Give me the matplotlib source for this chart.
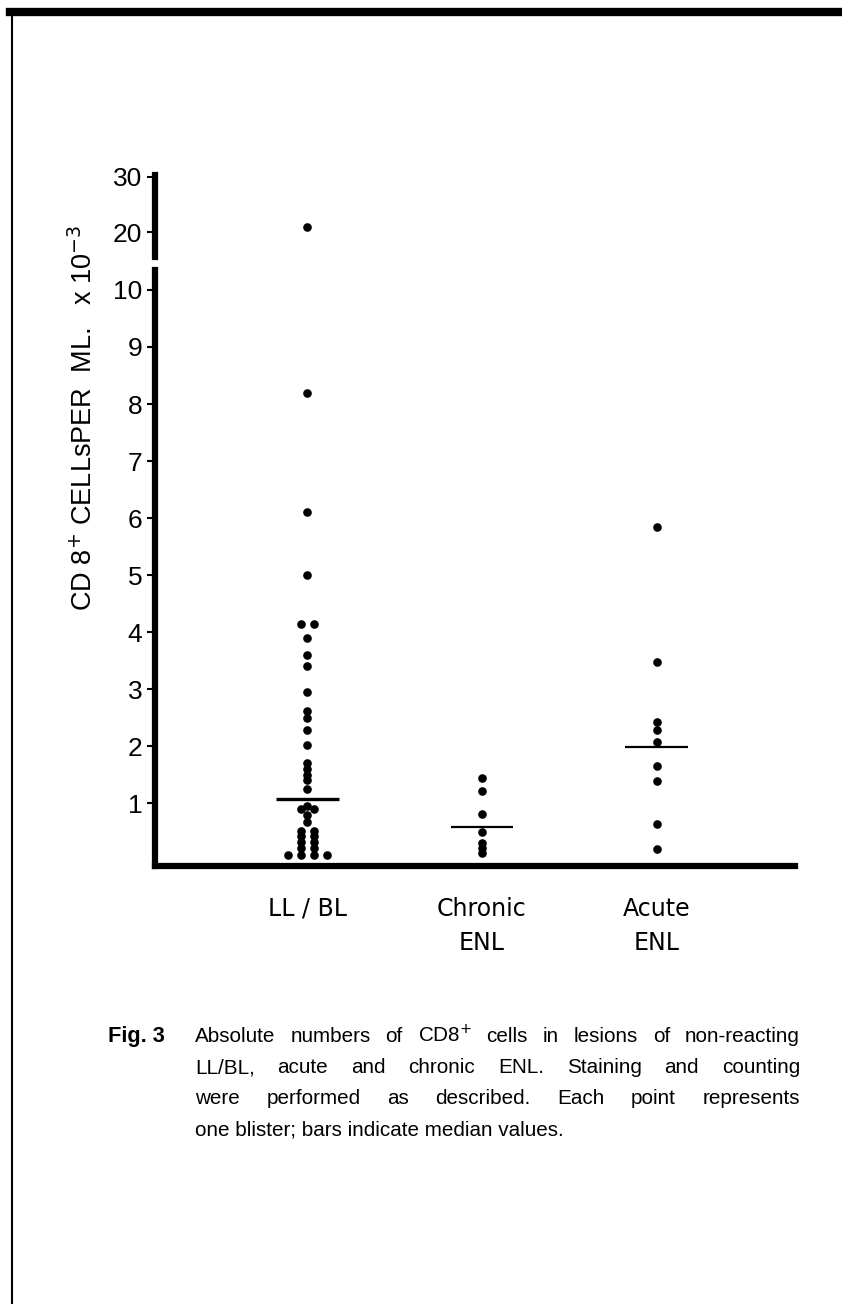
import matplotlib
matplotlib.use('Agg')
import matplotlib.pyplot as plt
from matplotlib.lines import Line2D
import numpy as np

# ---------------- data ----------------
categories = ['LL / BL', 'Chronic\nENL', 'Acute\nENL']
ll_bl = [21.0, 8.2, 6.1, 5.0, 4.15, 4.15, 3.9, 3.6, 3.4, 2.95, 2.62, 2.5, 2.28,
         2.02, 1.7, 1.6, 1.5, 1.4, 1.25, 0.95, 0.9, 0.9, 0.8, 0.68, 0.52, 0.52,
         0.42, 0.42, 0.32, 0.32, 0.22, 0.22, 0.1, 0.1, 0.1, 0.1]
chronic = [1.44, 1.21, 0.81, 0.49, 0.30, 0.21, 0.12]
acute = [5.84, 3.47, 2.42, 2.28, 2.07, 1.65, 1.39, 0.63, 0.19]
medians = [1.08, 0.58, 1.98]
yticks_low = [1, 2, 3, 4, 5, 6, 7, 8, 9, 10]
yticks_up = [20, 30]
ylabel = r'CD 8$^{+}$ CELLsPER  ML.   x 10$^{-3}$'
caption_head = 'Fig. 3'
caption_lines = [
    r'Absolute numbers of CD8$^{+}$  cells in lesions of non-reacting',
    'LL/BL, acute and chronic ENL.  Staining and counting',
    'were performed as described.  Each point represents',
    'one blister; bars indicate median values.',
]

# ---------------- layout ----------------
W, H = 842, 1304
fig = plt.figure(figsize=(W / 100, H / 100), dpi=100)
fig.patch.set_facecolor('white')


def fx(px):
    return px / W


def fy(py):
    return 1 - py / H


LEFT, RIGHT = 155, 795
LOW_BOT, LOW_TOP = 866, 270
UP_BOT, UP_TOP = 257.5, 175
ax_low = fig.add_axes([fx(LEFT), fy(LOW_BOT), (RIGHT - LEFT) / W, (LOW_BOT - LOW_TOP) / H])
ax_up = fig.add_axes([fx(LEFT), fy(UP_BOT), (RIGHT - LEFT) / W, (UP_BOT - UP_TOP) / H])

xlim = (-0.869, 2.789)
ax_low.set_xlim(*xlim)
ax_up.set_xlim(*xlim)
ax_low.set_ylim(-0.1, 10.35)
ax_up.set_ylim(15.5, 30.3)

for ax in (ax_low, ax_up):
    ax.patch.set_alpha(0)
    for s in ('top', 'right'):
        ax.spines[s].set_visible(False)
    ax.spines['left'].set_linewidth(4.5)
    ax.spines['left'].set_capstyle('projecting')
    ax.tick_params(axis='y', direction='out', length=6, width=1.5,
                   labelsize=19, pad=3)
ax_up.spines['bottom'].set_visible(False)
ax_low.spines['bottom'].set_linewidth(4.5)
ax_low.spines['bottom'].set_capstyle('projecting')

ax_low.set_yticks(yticks_low)
ax_low.set_yticklabels([str(t) for t in yticks_low], fontfamily='Liberation Sans')
ax_up.set_yticks(yticks_up)
ax_up.set_yticklabels([str(t) for t in yticks_up], fontfamily='Liberation Sans')
ax_up.set_xticks([])
ax_low.set_xticks(range(len(categories)))
ax_low.set_xticklabels(categories, fontfamily='DejaVu Sans', fontsize=17,
                       linespacing=1.55)
ax_low.tick_params(axis='x', length=0, pad=22)

fig.canvas.draw()

# ---------------- points ----------------
BREAK = 10.35
SPACING = 13.0  # px between side-by-side equal values


def draw_group(i, vals):
    vals = np.asarray(vals, dtype=float)
    uniq = {}
    for v in vals:
        key = round(float(v), 3)
        uniq[key] = uniq.get(key, 0) + 1
    for v, n in uniq.items():
        ax = ax_low if v <= BREAK else ax_up
        px, py = ax.transData.transform((i, v))
        offs = (np.arange(n) - (n - 1) / 2) * SPACING
        for o in offs:
            xd, _ = ax.transData.inverted().transform((px + o, py))
            ax.plot([xd], [v], 'o', color='black', markersize=6.2,
                    markeredgewidth=0, clip_on=False)


median_widths = [2.4, 1.6, 1.6]
for i, vals in enumerate([ll_bl, chronic, acute]):
    draw_group(i, vals)
    ax_low.hlines(medians[i], i - 0.18, i + 0.18, color='black',
                  linewidth=median_widths[i])

# ---------------- labels ----------------
fig.text(fx(84), fy(418), ylabel, rotation=90, ha='center', va='center',
         fontsize=19.5, fontfamily='Liberation Sans')

# caption
body_size = 14
renderer = fig.canvas.get_renderer()
probe = fig.text(0, 0, caption_lines[3], fontsize=body_size,
                 fontfamily='Liberation Sans')
w = probe.get_window_extent(renderer).width
probe.remove()
body_size = body_size * 372 / w

X0, X1 = 195, 800
BASE0, LSTEP = 1042, 31
fig.text(fx(108), fy(BASE0), caption_head, fontsize=body_size * 1.05,
         fontweight='bold', fontfamily='Liberation Sans', va='baseline', ha='left')
for k, line in enumerate(caption_lines):
    yb = fy(BASE0 + k * LSTEP)
    if k == len(caption_lines) - 1:
        fig.text(fx(X0), yb, line, fontsize=body_size, fontfamily='Liberation Sans',
                 va='baseline', ha='left')
        continue
    words = line.split()
    texts = []
    widths = []
    for wd in words:
        t = fig.text(0, yb, wd, fontsize=body_size, fontfamily='Liberation Sans',
                     va='baseline', ha='left')
        texts.append(t)
        widths.append(t.get_window_extent(renderer).width)
    gap = (X1 - X0 - sum(widths)) / (len(words) - 1)
    x = X0
    for t, wd in zip(texts, widths):
        t.set_x(fx(x))
        x += wd + gap

# page border
fig.add_artist(Line2D([fx(10), 1.0], [fy(12), fy(12)], color='black', linewidth=6,
                      transform=fig.transFigure))
fig.add_artist(Line2D([fx(11.5), fx(11.5)], [fy(12), 0.0], color='black',
                      linewidth=1.5, transform=fig.transFigure))

fig.savefig('out.png', dpi=100, facecolor='white')
